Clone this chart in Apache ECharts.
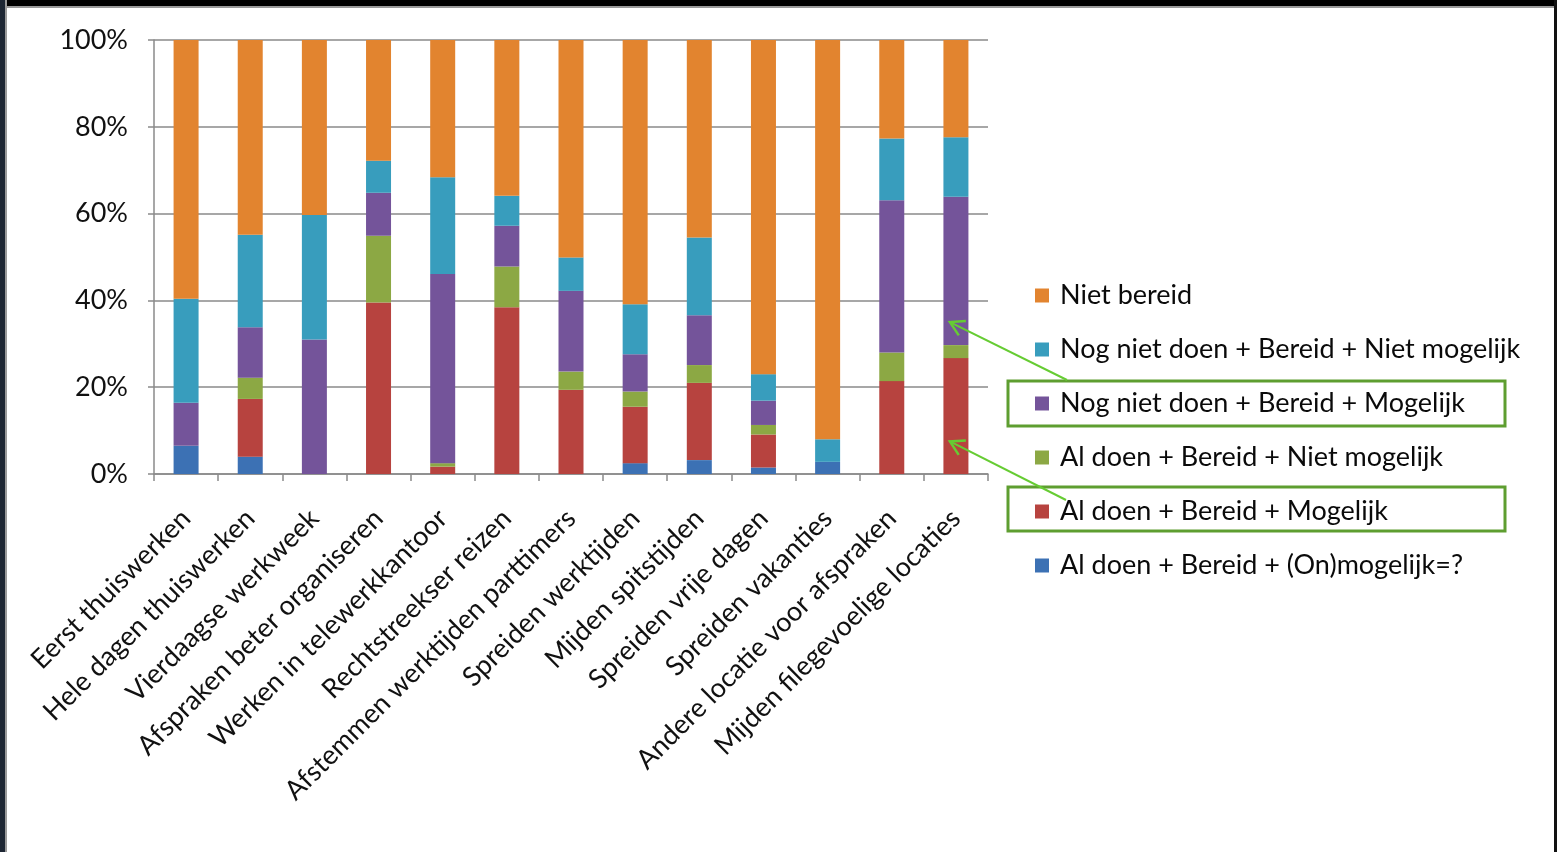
<!DOCTYPE html>
<html>
<head>
<meta charset="utf-8">
<script src="https://cdn.jsdelivr.net/npm/echarts@6/dist/echarts.min.js"></script>
<style>
html,body{margin:0;padding:0;background:#fff;}
#chart{width:1557px;height:852px;}
</style>
</head>
<body>
<div id="chart"></div>
<script>
const categories = ['Eerst thuiswerken','Hele dagen thuiswerken','Vierdaagse werkweek','Afspraken beter organiseren','Werken in telewerkkantoor','Rechtstreekser reizen','Afstemmen werktijden parttimers','Spreiden werktijden','Mijden spitstijden','Spreiden vrije dagen','Spreiden vakanties','Andere locatie voor afspraken','Mijden filegevoelige locaties'];
const seriesNames = ['Al doen + Bereid + (On)mogelijk=?','Al doen + Bereid + Mogelijk','Al doen + Bereid + Niet mogelijk','Nog niet doen + Bereid + Mogelijk','Nog niet doen + Bereid + Niet mogelijk','Niet bereid'];
const alDoenOnbekend      = [6.5, 4.0, 0, 0, 0, 0, 0, 2.5, 3.2, 1.5, 2.8, 0, 0];
const alDoenMogelijk      = [0, 13.3, 0, 39.5, 1.7, 38.4, 19.4, 13.0, 17.8, 7.6, 0, 21.4, 26.7];
const alDoenNietMogelijk  = [0, 4.9, 0, 15.4, 0.8, 9.4, 4.2, 3.5, 4.1, 2.2, 0, 6.6, 3.0];
const nogNietMogelijk     = [9.9, 11.6, 31.0, 9.9, 43.6, 9.4, 18.6, 8.6, 11.5, 5.6, 0, 35.1, 34.2];
const nogNietNietMogelijk = [24.0, 21.3, 28.7, 7.4, 22.3, 6.9, 7.7, 11.5, 17.9, 6.1, 5.2, 14.2, 13.7];
const nietBereid          = [59.6, 44.9, 40.3, 27.8, 31.6, 35.9, 50.1, 60.9, 45.5, 77.0, 92.0, 22.7, 22.4];
const yTicks = [0, 20, 40, 60, 80, 100];
const colors = ['#3C71B4','#B7433F','#8CA844','#74549A','#389DBD','#E2842F'];

const seriesData = [alDoenOnbekend, alDoenMogelijk, alDoenNietMogelijk, nogNietMogelijk, nogNietNietMogelijk, nietBereid];
const FONT = 'Lato';

const chart = echarts.init(document.getElementById('chart'), null, {renderer:'canvas'});
const option = {
  animation: false,
  backgroundColor: '#ffffff',
  textStyle: {fontFamily: FONT},
  grid: {left: 154, right: 569, top: 40, bottom: 378, containLabel: false},
  legend: {
    orient: 'vertical',
    left: 1030,
    top: 277,
    itemWidth: 14,
    itemHeight: 14,
    itemGap: 27,
    icon: 'rect',
    data: seriesNames.slice().reverse(),
    textStyle: {fontFamily: FONT, fontSize: 27, color: '#0a0a0a', lineHeight: 27, padding: [0,0,0,6]},
    selectedMode: false
  },
  xAxis: {
    type: 'category',
    data: categories,
    axisLine: {lineStyle: {color: '#8a8a8a', width: 1.5}},
    axisTick: {show: true, length: 7, alignWithLabel: false, lineStyle: {color: '#8a8a8a', width: 1.5}},
    axisLabel: {rotate: 45, interval: 0, fontSize: 27, color: '#111', margin: 40, fontFamily: FONT}
  },
  yAxis: {
    type: 'value',
    min: yTicks[0],
    max: yTicks[yTicks.length-1],
    interval: 20,
    axisLine: {show: true, lineStyle: {color: '#8a8a8a', width: 1.5}},
    axisTick: {show: true, length: 6, lineStyle: {color: '#8a8a8a', width: 1.5}},
    splitLine: {show: true, lineStyle: {color: '#8a8a8a', width: 1.5}},
    axisLabel: {formatter: '{value}%', fontSize: 27, color: '#111', margin: 26, fontFamily: FONT}
  },
  series: seriesNames.map((name, i) => ({
    name: name,
    type: 'bar',
    stack: 'total',
    barWidth: 25,
    itemStyle: {color: colors[i]},
    data: seriesData[i]
  })),
  graphic: []
};
chart.setOption(option);

// annotation arrows pointing to bar 13 segments, and highlight boxes around legend items
function arrow(from, to) {
  const dx = to[0]-from[0], dy = to[1]-from[1];
  const ang = Math.atan2(dy, dx);
  const L = 16, a = Math.PI/6;
  const p1 = [to[0]-L*Math.cos(ang-a), to[1]-L*Math.sin(ang-a)];
  const p2 = [to[0]-L*Math.cos(ang+a), to[1]-L*Math.sin(ang+a)];
  return [
    {type:'line', shape:{x1:from[0],y1:from[1],x2:to[0],y2:to[1]}, style:{stroke:'#66CC33', lineWidth:2}, z:100},
    {type:'polyline', shape:{points:[p1,to,p2]}, style:{stroke:'#66CC33', lineWidth:2.5, fill:null}, z:100}
  ];
}
const tip1 = chart.convertToPixel({xAxisIndex:0, yAxisIndex:0}, [categories.length-1, 35]);
const tip2 = chart.convertToPixel({xAxisIndex:0, yAxisIndex:0}, [categories.length-1, 7.5]);
tip1[0] -= 6; tip2[0] -= 6;
const g = [
  {type:'rect', shape:{x:0,y:0,width:1557,height:6}, style:{fill:'#000'}, z:200},
  {type:'line', shape:{x1:0,y1:7,x2:1557,y2:7}, style:{stroke:'#9a9a9a', lineWidth:2}, z:200},
  {type:'rect', shape:{x:0,y:0,width:5,height:852}, style:{fill:'#1d2633'}, z:200},
  {type:'line', shape:{x1:6,y1:0,x2:6,y2:852}, style:{stroke:'#9a9a9a', lineWidth:2}, z:200},
  {type:'rect', shape:{x:1554,y:0,width:3,height:852}, style:{fill:'#111'}, z:200},
  {type:'rect', shape:{x:1008,y:381,width:497,height:45}, style:{stroke:'#5E9E30', lineWidth:3, fill:null}, z:100},
  {type:'rect', shape:{x:1008,y:487,width:497,height:44}, style:{stroke:'#5E9E30', lineWidth:3, fill:null}, z:100}
].concat(arrow([1067,380], tip1), arrow([1066,500], tip2));
chart.setOption({graphic: g});
</script>
</body>
</html>
